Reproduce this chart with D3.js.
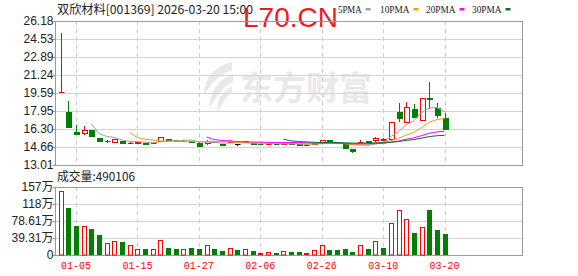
<!DOCTYPE html>
<html>
<head>
<meta charset="utf-8">
<script src="https://cdn.jsdelivr.net/npm/d3@7/dist/d3.min.js"></script>
<style>
  body { margin: 0; background: #fff; }
  svg { display: block; }
</style>
</head>
<body>
<div id="chart"></div>
<script>
// trading days shown on the chart
const dates = ["12-30","12-31","01-05","01-06","01-07","01-08","01-09","01-12","01-13","01-14",
  "01-15","01-16","01-19","01-20","01-21","01-22","01-23","01-26","01-27","01-28",
  "01-29","01-30","02-02","02-03","02-04","02-05","02-06","02-09","02-10","02-11",
  "02-12","02-13","02-24","02-25","02-26","02-27","03-02","03-03","03-04","03-05",
  "03-06","03-09","03-10","03-11","03-12","03-13","03-16","03-17","03-18","03-19","03-20"];

const open  = [19.68,17.88,16.00,15.95,16.21,15.51,15.16,15.14,15.23,15.00,
  14.98,15.00,15.01,15.23,15.41,15.30,15.20,15.23,15.05,15.00,
  15.15,14.90,15.12,14.90,15.18,15.05,14.95,14.90,14.95,14.92,
  14.98,14.90,14.86,14.90,15.12,15.30,15.02,14.90,14.47,15.10,
  15.20,15.27,15.33,15.40,17.88,16.97,18.13,17.12,19.17,18.20,17.28];
const close = [19.72,16.51,15.85,16.21,15.69,15.17,15.20,15.36,15.02,15.06,
  15.07,14.97,15.06,15.54,15.33,15.21,15.25,15.11,14.78,15.20,
  15.10,14.84,15.15,14.90,15.21,14.92,14.92,14.95,14.92,14.98,
  14.95,14.84,14.84,14.98,15.28,15.23,14.98,14.54,14.29,15.15,
  15.09,15.50,15.36,16.95,17.34,18.28,17.37,19.11,19.02,17.58,16.30];
const high  = [25.11,18.86,16.67,16.58,16.22,15.51,15.30,15.42,15.25,15.18,
  15.08,15.02,15.11,15.60,15.43,15.31,15.27,15.24,15.07,15.30,
  15.18,14.92,15.30,14.90,15.24,15.06,14.96,14.97,14.97,15.00,
  15.00,14.91,14.90,15.00,15.32,15.32,15.04,14.92,14.47,15.30,
  15.22,15.54,15.45,16.96,18.65,18.74,18.56,19.15,20.63,18.65,17.79];
const low   = [19.68,16.42,15.75,15.75,15.66,15.15,15.05,15.10,15.00,14.98,
  14.96,14.95,15.00,15.20,15.28,15.19,15.18,15.09,14.68,14.85,
  15.06,14.80,15.00,14.78,15.15,14.90,14.88,14.88,14.90,14.90,
  14.93,14.80,14.82,14.88,15.00,15.21,14.96,14.52,14.11,15.00,
  15.07,15.14,15.23,15.35,16.97,16.95,17.30,17.10,18.10,17.28,16.21];
// volume in 万 (10k) units
const volume = [148,108,67,67,60,46,27,31.6,30,22.4,
  13,14,14,34,16,14,14,16,14,23,
  14,9,16,11.6,13,9,5.4,6,4.6,8.5,
  6,6,4,11,23,11.6,11.6,13.9,7,23,
  13.9,32,16,73,104,83,51,65,104,58,49.0106];

const priceTicks = [26.18,24.53,22.89,21.24,19.59,17.95,16.30,14.66,13.01];
const volTicks = [157.22,117.92,78.61,39.31,0];
const volTickLabels = ["157万","118万","78.61万","39.31万","0"];
const dateTicks = ["01-05","01-15","01-27","02-06","02-26","03-10","03-20"];
const maPeriods = [5,10,20,30];
const maNames = ["5PMA","10PMA","20PMA","30PMA"];
const maColors = ["#a0a0a0","#f0a000","#ff00ff","#00703c"];

const W = 578, H = 276;
const left = 55, right = 522;
const pTop = 21, pBot = 165, vTop = 187, vBot = 255;
const UP = "#ff0000", DOWN = "#008000";

const svg = d3.select("#chart").append("svg")
  .attr("width", W).attr("height", H)
  .style("font-family", "'Liberation Sans', Arial, sans-serif");

const x = d3.scalePoint().domain(dates).range([60.6, 444.6]);
const y = d3.scaleLinear().domain([13.01, 26.18]).range([pBot, pTop]);
const yv = d3.scaleLinear().domain([0, 157.22]).range([vBot, vTop]);
const cx = d => Math.round(x(d)) + 0.5;

// watermark logo
const wm = svg.append("g").attr("fill", "#e9e9e9");
wm.append("path")
  .attr("d", "M232,62 C214,66 204,80 204,96 C210,84 220,74 232,70 Z M233,74 C218,80 209,92 210,108 C216,96 224,86 233,82 Z M232,86 C222,92 216,100 218,112 C222,104 227,96 232,92 Z");
wm.append("text").attr("x", 240).attr("y", 100)
  .style("font-family", "'Noto Sans CJK SC'").style("font-weight", "bold")
  .style("font-size", "33px").text("东方财富");

// header
svg.append("text").attr("x", 57).attr("y", 14)
  .attr("textLength", 196).attr("lengthAdjust", "spacingAndGlyphs")
  .style("font-family", "'Noto Sans CJK SC'").style("font-size", "12px").attr("fill", "#222")
  .text("双欣材料[001369] 2026-03-20 15:00");

svg.append("text").attr("x", 243).attr("y", 27)
  .style("font-size", "28px").attr("fill", "#ee1c1c")
  .text("L70.CN");

// MA legend
const lg = svg.append("g").style("font-family", "'Liberation Serif', serif").style("font-size", "11px");
const lgX = [338, 380, 426, 472];
maNames.forEach((n, i) => {
  lg.append("text").attr("x", lgX[i]).attr("y", 12.5).attr("fill", "#222")
    .attr("textLength", n.length * 5.9).attr("lengthAdjust", "spacingAndGlyphs").text(n);
  lg.append("rect").attr("x", lgX[i] + n.length * 5.9 + 4).attr("y", 8).attr("width", 5).attr("height", 2.5)
    .attr("fill", maColors[i]);
});

// grid
function panel(top, bot, ticks, scale) {
  const g = svg.append("g");
  g.selectAll(".h").data(ticks).enter().append("line")
    .attr("x1", left).attr("x2", right)
    .attr("y1", d => Math.round(scale(d)) + 0.5).attr("y2", d => Math.round(scale(d)) + 0.5)
    .attr("stroke", "#d3d3d3");
  g.selectAll(".v").data(dateTicks).enter().append("line")
    .attr("x1", d => cx(d)).attr("x2", d => cx(d))
    .attr("y1", top).attr("y2", bot)
    .attr("stroke", "#cccccc").attr("stroke-dasharray", "4,4");
  g.append("rect").attr("x", left + 0.5).attr("y", top + 0.5)
    .attr("width", right - left).attr("height", bot - top)
    .attr("fill", "none").attr("stroke", "#999");
}
panel(pTop, pBot, priceTicks, y);
panel(vTop, vBot, volTicks, yv);

// y axes
const yAxis = d3.axisLeft(y).tickValues(priceTicks).tickSize(3).tickFormat(d3.format(".2f"));
svg.append("g").attr("transform", `translate(${left + 0.5},0)`).call(yAxis)
  .call(g => g.select(".domain").remove())
  .call(g => g.selectAll("line").attr("stroke", "#999"))
  .call(g => g.selectAll("text").attr("fill", "#222").attr("x", -2).style("font-size", "12px").style("font-family", "'Liberation Sans', Arial"));

const vAxis = d3.axisLeft(yv).tickValues(volTicks).tickSize(3).tickFormat((d, i) => volTickLabels[i]);
svg.append("g").attr("transform", `translate(${left + 0.5},0)`).call(vAxis)
  .call(g => g.select(".domain").remove())
  .call(g => g.selectAll("line").attr("stroke", "#999"))
  .call(g => g.selectAll("text").attr("fill", "#222").attr("x", -2).style("font-size", "12px").style("font-family", "'Liberation Sans', 'Noto Sans CJK SC'"));

// x labels
svg.append("g").selectAll("text").data(dateTicks).enter().append("text")
  .attr("x", d => x(d)).attr("y", 269).attr("text-anchor", "middle")
  .attr("fill", "#ff0000").style("font-family", "'Liberation Mono', monospace").style("font-size", "10px")
  .text(d => d);

// volume title
svg.append("text").attr("x", 57).attr("y", 181)
  .attr("textLength", 78).attr("lengthAdjust", "spacingAndGlyphs")
  .style("font-family", "'Noto Sans CJK SC'").style("font-size", "12px").attr("fill", "#222")
  .text("成交量:" + Math.round(volume[volume.length - 1] * 10000));

// data rows
const rows = dates.map((d, i) => ({
  d, o: open[i], c: close[i], h: high[i], l: low[i], v: volume[i],
  pc: i > 0 ? close[i - 1] : open[i]
}));
const candleColor = r => r.c > r.o ? UP : r.c < r.o ? DOWN : "#000";

// candles
const cg = svg.append("g");
rows.forEach(r => {
  const xc = cx(r.d), col = candleColor(r);
  const top = Math.round(y(Math.max(r.o, r.c))), bot = Math.round(y(Math.min(r.o, r.c)));
  const hy = Math.round(y(r.h)), ly = Math.round(y(r.l));
  if (hy < top) cg.append("line").attr("x1", xc).attr("x2", xc).attr("y1", hy).attr("y2", top).attr("stroke", col);
  if (ly > bot) cg.append("line").attr("x1", xc).attr("x2", xc).attr("y1", bot).attr("y2", ly).attr("stroke", col);
  if (bot - top < 1) {
    cg.append("line").attr("x1", xc - 2.5).attr("x2", xc + 3).attr("y1", top + 0.5).attr("y2", top + 0.5).attr("stroke", col);
  } else if (r.c > r.o) {
    cg.append("rect").attr("x", xc - 2).attr("y", top + 0.5).attr("width", 5).attr("height", bot - top)
      .attr("fill", "#fff").attr("stroke", col);
  } else {
    cg.append("rect").attr("x", xc - 2.5).attr("y", top).attr("width", 6).attr("height", bot - top + 1)
      .attr("fill", col);
  }
});

// moving averages
maPeriods.forEach((n, k) => {
  const pts = [];
  for (let i = n - 1; i < close.length; i++) {
    pts.push([x(dates[i]), y(d3.mean(close.slice(i - n + 1, i + 1)))]);
  }
  svg.append("path").attr("d", d3.line()(pts)).attr("fill", "none")
    .attr("stroke", maColors[k]).attr("stroke-width", 1);
});

// volume bars: red hollow when close rose, green when it fell, red filled when unchanged
const vg = svg.append("g");
rows.forEach(r => {
  const xc = cx(r.d), t = Math.round(yv(r.v));
  if (r.c > r.pc) {
    vg.append("rect").attr("x", xc - 2).attr("y", t + 0.5).attr("width", 4).attr("height", vBot - t - 0.5)
      .attr("fill", "#fff").attr("stroke", UP);
  } else {
    vg.append("rect").attr("x", xc - 2.5).attr("y", t).attr("width", 5).attr("height", vBot - t)
      .attr("fill", r.c < r.pc ? DOWN : UP);
  }
});
</script>
</body>
</html>
